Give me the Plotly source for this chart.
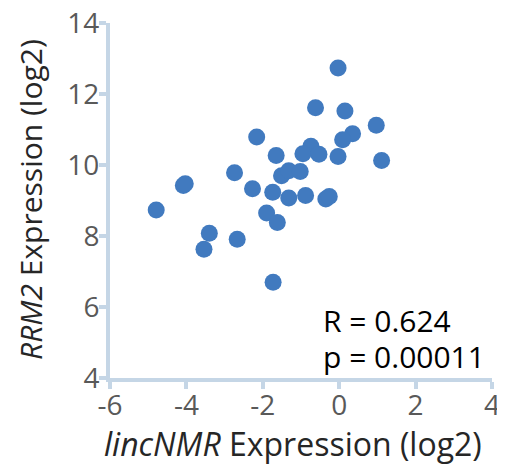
import plotly.graph_objects as go

lincnmr = [-0.03, -0.62, 0.15, -2.16, 0.97, 0.35, 0.09, 1.11, -1.65, -0.74,
           -0.95, -0.53, -0.03, -2.74, -1.51, -1.32, -1.02, -2.27, -1.74, -1.32,
           -0.88, -0.35, -0.26, -4.08, -4.03, -4.79, -1.90, -1.62, -3.40, -3.54,
           -2.67, -1.73]
rrm2 = [12.73, 11.61, 11.52, 10.79, 11.12, 10.88, 10.71, 10.13, 10.27, 10.53,
        10.32, 10.30, 10.24, 9.78, 9.70, 9.84, 9.82, 9.33, 9.23, 9.07,
        9.14, 9.04, 9.11, 9.42, 9.47, 8.73, 8.65, 8.38, 8.08, 7.63,
        7.91, 6.70]
x_ticks = [-6, -4, -2, 0, 2, 4]
x_tick_labels = ["-6", "-4", "-2", "0", "2", "4"]
y_ticks = [4, 6, 8, 10, 12, 14]
y_tick_labels = ["4", "6", "8", "10", "12", "14"]
stats_text = ["R = 0.624", "p = 0.00011"]

FONT = "Open Sans"
AXIS_COLOR = "#c5d6e6"

# page body has an 8px default margin, so the figure is placed at (8, 8)
OFF = 8
W, H = 497, 457
L, T = 110 - OFF, 23 - OFF
R = W - (492 - OFF)
B = H - (378 - OFF)
pw, ph = W - L - R, H - T - B


def px(sx):
    return (sx - OFF - L) / pw


def py(sy):
    return (H - B - (sy - OFF)) / ph


fig = go.Figure()
fig.add_trace(go.Scatter(
    x=lincnmr, y=rrm2, mode="markers",
    marker=dict(size=17, color="#417abf", line=dict(width=0)),
    showlegend=False, cliponaxis=False,
))

axis_common = dict(
    showgrid=False, zeroline=False, showline=True, linecolor=AXIS_COLOR, linewidth=4,
    ticks="outside", ticklen=7, tickwidth=4, tickcolor=AXIS_COLOR, automargin=False,
    ticklabeloverflow="allow",
    tickfont=dict(family=FONT, size=28, color="#595959"),
)
fig.update_xaxes(range=[-6, 4], tickvals=x_ticks, ticktext=x_tick_labels,
                 ticklabelstandoff=-8, **axis_common)
fig.update_yaxes(range=[4, 14], tickvals=y_ticks, ticktext=y_tick_labels,
                 ticklabelstandoff=-6, **axis_common)

fig.add_annotation(x=px(321), y=py(320), xref="paper", yref="paper", text=stats_text[0],
                   showarrow=False, xanchor="left", yanchor="middle",
                   font=dict(family=FONT, size=30, color="#000000"))
fig.add_annotation(x=px(321), y=py(356), xref="paper", yref="paper", text=stats_text[1],
                   showarrow=False, xanchor="left", yanchor="middle",
                   font=dict(family=FONT, size=30, color="#000000"))

fig.add_annotation(x=px(293), y=py(443), xref="paper", yref="paper",
                   text="<i>lincNMR</i> Expression (log2)", showarrow=False,
                   xanchor="center", yanchor="middle",
                   font=dict(family=FONT, size=32, color="#262626"))
fig.add_annotation(x=px(30), y=py(200), xref="paper", yref="paper",
                   text="<i>RRM2</i> Expression (log2)", showarrow=False, textangle=-90,
                   xanchor="center", yanchor="middle",
                   font=dict(family=FONT, size=30, color="#262626"))

fig.update_layout(
    width=W, height=H,
    margin=dict(l=L, r=R, t=T, b=B),
    paper_bgcolor="white", plot_bgcolor="white",
    font=dict(family=FONT),
)

fig.write_html("out.html")
